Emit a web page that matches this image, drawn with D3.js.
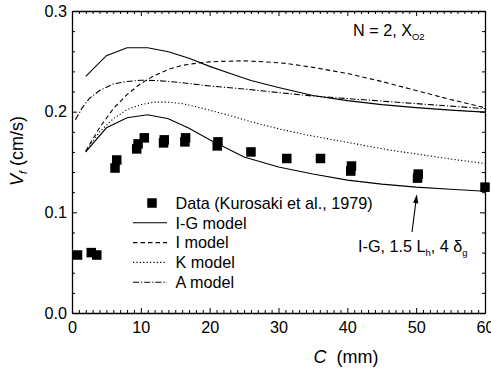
<!DOCTYPE html>
<html><head><meta charset="utf-8">
<script src="https://cdn.jsdelivr.net/npm/d3@7"></script>
<style>
html,body{margin:0;padding:0;background:#fff;}
svg{display:block;font-family:Arial,"Liberation Sans",sans-serif;}
</style></head>
<body><svg id="c" width="491" height="371"></svg>
<script>
// ---- data ----
const dataC = [0.8, 2.8, 3.6, 6.25, 6.5, 9.4, 9.6, 10.5, 13.3, 13.4, 16.4, 16.5, 21.1, 21.2, 26, 31.2, 36.1, 40.5, 40.6, 50.2, 50.3, 60];
const dataV = [0.0576, 0.060, 0.0576, 0.144, 0.152, 0.163, 0.168, 0.174, 0.169, 0.172, 0.170, 0.174, 0.166, 0.170, 0.160, 0.1535, 0.1535, 0.141, 0.146, 0.134, 0.138, 0.125];

const igC = [2, 5, 8, 11, 14, 17, 20, 23, 26, 30, 35, 40, 45, 50, 55, 60];
const igV = [0.235, 0.2556, 0.2635, 0.2635, 0.2596, 0.253, 0.245, 0.238, 0.231, 0.224, 0.216, 0.211, 0.207, 0.204, 0.2015, 0.1995];

const iC = [2, 4, 6, 8, 10, 12, 14, 16, 18, 20, 22, 25, 28, 31, 35, 40, 45, 50, 55, 60];
const iV = [0.161, 0.184, 0.203, 0.217, 0.228, 0.236, 0.242, 0.246, 0.248, 0.2495, 0.250, 0.2505, 0.2495, 0.248, 0.244, 0.238, 0.230, 0.221, 0.212, 0.204];

const kC = [2, 4, 6, 8, 10, 12, 14, 16, 18, 20, 23, 26, 30, 34, 38, 42, 46, 50, 55, 60];
const kV = [0.160, 0.180, 0.193, 0.202, 0.207, 0.2095, 0.2095, 0.208, 0.205, 0.2015, 0.196, 0.190, 0.183, 0.177, 0.172, 0.167, 0.162, 0.158, 0.153, 0.1485];

const aC = [0.5, 1.5, 2.5, 4, 6, 8, 10, 12, 15, 20, 25, 30, 35, 40, 45, 50, 55, 60];
const aV = [0.192, 0.204, 0.213, 0.221, 0.2275, 0.230, 0.2312, 0.231, 0.2295, 0.2255, 0.2225, 0.219, 0.2155, 0.213, 0.2105, 0.208, 0.2055, 0.203];

const ig2C = [2, 5, 8, 11, 14, 17, 20, 25, 30, 35, 40, 45, 50, 55, 60];
const ig2V = [0.160, 0.184, 0.194, 0.197, 0.193, 0.1835, 0.172, 0.155, 0.145, 0.138, 0.132, 0.128, 0.125, 0.123, 0.121];

const xTicks = [0, 10, 20, 30, 40, 50, 60];
const yTicks = [0.0, 0.1, 0.2, 0.3];
const legendLabels = ["Data (Kurosaki et al., 1979)", "I-G model", "I model", "K model", "A model"];

// ---- setup ----
const svg = d3.select("#c");
const x = d3.scaleLinear().domain([0, 60]).range([72, 485]);
const y = d3.scaleLinear().domain([0, 0.3]).range([313, 11]);
const FS = 16.2;

const styles = {
  solid: null,
  dash: "4.5,3",
  dot: "1.2,2.2",
  dashdot: "6,2,1.2,2"
};

// ---- axes ----
function minorAxis(gen, tickVals) {
  return gen.tickValues(tickVals).tickSize(-3).tickSizeOuter(0).tickFormat("");
}
const xMinor = d3.range(0, 61, 1).filter(v => v % 10 !== 0);
const yMinor = d3.range(0, 0.301, 0.02).map(v => +v.toFixed(2)).filter(v => Math.abs(v * 10 - Math.round(v * 10)) > 1e-6);

const gB = svg.append("g").attr("transform", "translate(0,313)")
  .call(d3.axisBottom(x).tickValues(xTicks).tickSize(-5).tickSizeOuter(0).tickPadding(8).tickFormat(d3.format("d")));
const gBm = svg.append("g").attr("transform", "translate(0,313)").call(minorAxis(d3.axisBottom(x), xMinor));
const gT = svg.append("g").attr("transform", "translate(0,11)")
  .call(d3.axisTop(x).tickValues(xTicks).tickSize(-5).tickSizeOuter(0).tickFormat(""));
const gTm = svg.append("g").attr("transform", "translate(0,11)").call(minorAxis(d3.axisTop(x), xMinor));
const gL = svg.append("g").attr("transform", "translate(72,0)")
  .call(d3.axisLeft(y).tickValues(yTicks).tickSize(-5).tickSizeOuter(0).tickPadding(5).tickFormat(d3.format(".1f")));
const gLm = svg.append("g").attr("transform", "translate(72,0)").call(minorAxis(d3.axisLeft(y), yMinor));
const gR = svg.append("g").attr("transform", "translate(485,0)")
  .call(d3.axisRight(y).tickValues(yTicks).tickSize(-5).tickSizeOuter(0).tickFormat(""));
const gRm = svg.append("g").attr("transform", "translate(485,0)").call(minorAxis(d3.axisRight(y), yMinor));

[gB, gT, gL, gR, gBm, gTm, gLm, gRm].forEach(g => {
  g.selectAll(".tick line").attr("stroke", "#000").attr("stroke-width", 1);
  g.selectAll("text").attr("font-size", FS).attr("font-family", "Arial, 'Liberation Sans', sans-serif").attr("fill", "#000");
});
[gBm, gTm, gLm, gRm].forEach(g => g.select(".domain").remove());
[gB, gT, gL, gR].forEach(g => g.select(".domain").attr("stroke", "#000").attr("stroke-width", 1.3));

// ---- curves ----
const line = d3.line().x(d => x(d[0])).y(d => y(d[1]));
function drawCurve(cs, vs, dash) {
  const pts = cs.map((c, i) => [c, vs[i]]);
  svg.append("path").attr("d", line(pts)).attr("fill", "none").attr("stroke", "#000")
    .attr("stroke-width", 1.1).attr("stroke-dasharray", dash);
}
drawCurve(igC, igV, styles.solid);
drawCurve(iC, iV, styles.dash);
drawCurve(kC, kV, styles.dot);
drawCurve(aC, aV, styles.dashdot);
drawCurve(ig2C, ig2V, styles.solid);

// ---- data squares ----
const S = 9.5;
svg.append("g").selectAll("rect").data(dataC.map((c, i) => [c, dataV[i]])).join("rect")
  .attr("x", d => x(d[0]) - S / 2).attr("y", d => y(d[1]) - S / 2)
  .attr("width", S).attr("height", S).attr("fill", "#000");

// ---- legend ----
const lg = svg.append("g");
const legY0 = 203, legDy = 19.8;
const legDash = [null, styles.solid, styles.dash, styles.dot, styles.dashdot];
legendLabels.forEach((lab, i) => {
  const yy = legY0 + i * legDy;
  if (i === 0) {
    lg.append("rect").attr("x", 152 - S / 2).attr("y", yy - S / 2).attr("width", S).attr("height", S).attr("fill", "#000");
  } else {
    lg.append("line").attr("x1", 133).attr("x2", 167).attr("y1", yy).attr("y2", yy)
      .attr("stroke", "#000").attr("stroke-width", 1.1).attr("stroke-dasharray", legDash[i]);
  }
  lg.append("text").attr("x", 175.5).attr("y", yy + 5.8).attr("font-size", FS).text(lab);
});

// ---- axis titles ----
const xt = svg.append("text").attr("x", 346).attr("y", 363).attr("text-anchor", "middle").attr("font-size", 18);
xt.append("tspan").attr("font-style", "italic").text("C");
xt.append("tspan").text("  (mm)").attr("xml:space", "preserve");

const yt = svg.append("text").attr("transform", "translate(23,151) rotate(-90)").attr("text-anchor", "middle").attr("font-size", 18);
yt.append("tspan").attr("font-style", "italic").text("V");
yt.append("tspan").attr("font-style", "italic").attr("font-size", 11).attr("dy", 4).text("f");
yt.append("tspan").attr("dy", -4).text(" (cm/s)");

// ---- annotations ----
const a1 = svg.append("text").attr("x", 353).attr("y", 36).attr("font-size", FS);
a1.append("tspan").text("N = 2, X");
a1.append("tspan").attr("font-size", 9.5).attr("dy", 4).text("O2");

const a2 = svg.append("text").attr("x", 358).attr("y", 252).attr("font-size", FS);
a2.append("tspan").text("I-G, 1.5 L");
a2.append("tspan").attr("font-size", 9.5).attr("dy", 4).text("h");
a2.append("tspan").attr("dy", -4).text(", 4 ");
a2.append("tspan").text("δ");
a2.append("tspan").attr("font-size", 9.5).attr("dy", 4).text("g");

const arrowFrom = [49.4, 0.0805], arrowTo = [50.1, 0.118];
const x1 = x(arrowFrom[0]), y1 = y(arrowFrom[1]), x2 = x(arrowTo[0]), y2 = y(arrowTo[1]);
const ang = Math.atan2(y2 - y1, x2 - x1);
const hl = 9, hw = 2.6;
const bx = x2 - hl * Math.cos(ang), by = y2 - hl * Math.sin(ang);
svg.append("line").attr("x1", x1).attr("y1", y1).attr("x2", bx).attr("y2", by).attr("stroke", "#000").attr("stroke-width", 1.1);
svg.append("path").attr("d", `M${x2},${y2}L${bx + hw * Math.sin(ang)},${by - hw * Math.cos(ang)}L${bx - hw * Math.sin(ang)},${by + hw * Math.cos(ang)}Z`).attr("fill", "#000");
</script></body></html>
